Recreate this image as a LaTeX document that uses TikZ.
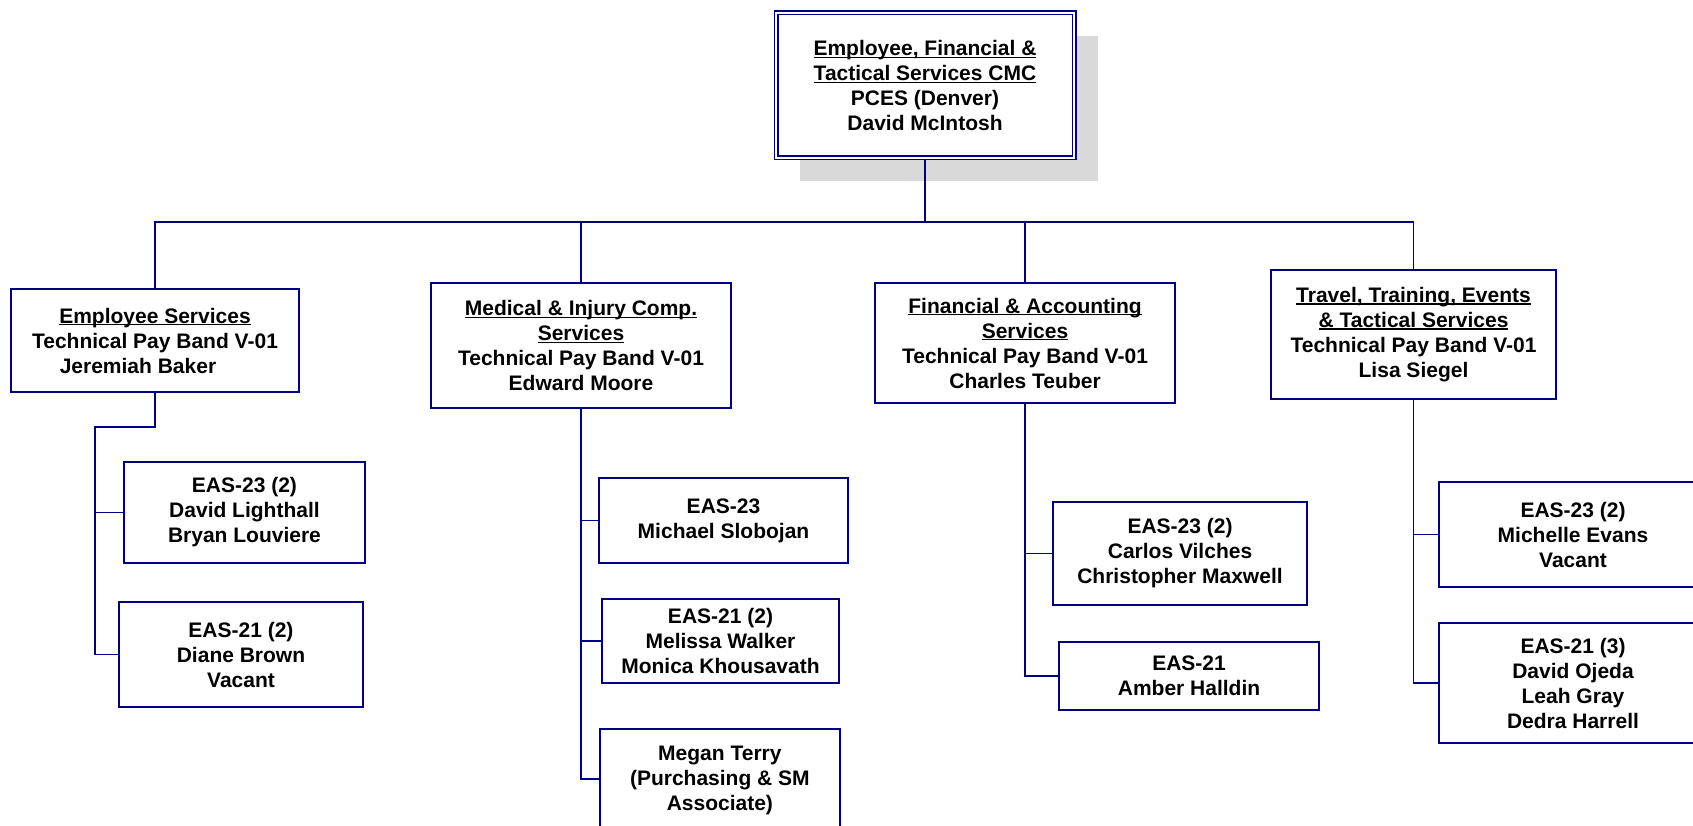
\documentclass[tikz,border=0pt]{standalone}
\usepackage{fontspec}
\setmainfont{Liberation Sans}
\usetikzlibrary{shadows}
\definecolor{navyline}{RGB}{0,0,128}
\newcommand{\hdline}[1]{\setbox0\hbox{#1}\rlap{\rule[-2.3pt]{\wd0}{1.2pt}}\box0}

\begin{document}
\begin{tikzpicture}[x=1pt,y=-1pt, line width=1.7pt, draw=navyline,
        unit/.style={draw=navyline, fill=white, text=black, align=center, inner sep=3pt,
            font=\fontsize{21}{25}\selectfont\bfseries}]
    \useasboundingbox (0,0) rectangle (1693,826);
    \clip (0,0) rectangle (1693,826);
    % top box
    \node[unit, line width=1.7pt, double=white, double distance=1.6pt, minimum width=298, minimum height=145,
        drop shadow={shadow xshift=24pt, shadow yshift=-23pt, fill=black!15, opacity=1, draw=none}]
        (cmc) at (925,85.5) {\hdline{Employee, Financial \&}\\\hdline{Tactical Services CMC}\\PCES (Denver)\\David McIntosh};
    % employee services
    \node[unit, minimum width=288, minimum height=103] (es) at (155,340.5) {\hdline{Employee Services}\\Technical Pay Band V-01\\Jeremiah Baker\hspace*{34pt}};
    \node[unit, minimum width=241, minimum height=101] (es23) at (244.5,512.5) {EAS-23 (2)\\David Lighthall\\Bryan Louviere};
    \node[unit, minimum width=244, minimum height=105] (es21) at (241,654.5) {EAS-21 (2)\\Diane Brown\\Vacant};
    % medical
    \node[unit, minimum width=300, minimum height=125] (mi) at (581,345.5) {\hdline{Medical \& Injury Comp.}\\\hdline{Services}\\Technical Pay Band V-01\\Edward Moore};
    \node[unit, minimum width=249, minimum height=85] (mi23) at (723.5,520.5) {EAS-23\\Michael Slobojan};
    \node[unit, minimum width=237, minimum height=84] (mi21) at (720.5,641) {EAS-21 (2)\\Melissa Walker\\Monica Khousavath};
    \node[unit, anchor=north west, minimum width=240, inner ysep=17pt, text depth=150pt] (mt) at (599,728) {Megan Terry\\(Purchasing \& SM\\Associate)};
    % financial
    \node[unit, minimum width=300, minimum height=120] (fa) at (1025,343) {\hdline{Financial \& Accounting}\\\hdline{Services}\\Technical Pay Band V-01\\Charles Teuber};
    \node[unit, minimum width=254, minimum height=103] (fa23) at (1180,553.5) {EAS-23 (2)\\Carlos Vilches\\Christopher Maxwell};
    \node[unit, minimum width=260, minimum height=68] (fa21) at (1189,676) {EAS-21\\Amber Halldin};
    % travel
    \node[unit, minimum width=285, minimum height=129] (tt) at (1413.5,334.5) {\hdline{Travel, Training, Events}\\\hdline{\& Tactical Services}\\Technical Pay Band V-01\\Lisa Siegel};
    \node[unit, minimum width=268, minimum height=105] (tt23) at (1573,534.5) {EAS-23 (2)\\Michelle Evans\\Vacant};
    \node[unit, minimum width=268, minimum height=120] (tt21) at (1573,683) {EAS-21 (3)\\David Ojeda\\Leah Gray\\Dedra Harrell};
    % bus
    \coordinate (bus) at (0,222);
    \draw (es.north) |- (bus -| tt.north) -- (tt.north);
    \draw (cmc.south) -- (cmc.south |- bus);
    \draw (mi.north) -- (mi.north |- bus);
    \draw (fa.north) -- (fa.north |- bus);
    % branches
    \coordinate (esbend) at (95,427);
    \draw (es.south) |- (esbend) |- (es21.west);
    \draw (esbend |- es23.west) -- (es23.west);
    \coordinate (mtmid) at (0,779);
    \draw (mi.south) |- (mt.west |- mtmid);
    \draw (mi.south |- mi23.west) -- (mi23.west);
    \draw (mi.south |- mi21.west) -- (mi21.west);
    \draw (fa.south) |- (fa21.west);
    \draw (fa.south |- fa23.west) -- (fa23.west);
    \draw (tt.south) |- (tt21.west);
    \draw (tt.south |- tt23.west) -- (tt23.west);
\end{tikzpicture}
\end{document}
